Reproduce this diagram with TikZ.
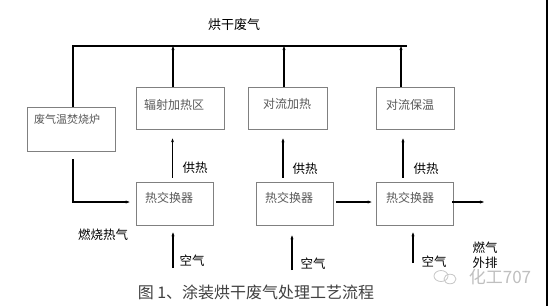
\documentclass[tikz,border=0pt]{standalone}
\usepackage{fontspec}
\newfontfamily\cjk{Noto Sans CJK SC}
\usetikzlibrary{arrows.meta}
\begin{document}
\begin{tikzpicture}[x=1pt,y=-1pt,
  box/.style={draw=black!50, line width=0.7pt, inner sep=0pt, minimum height=43pt},
  flow/.style={line width=1.3pt, black},
  arr/.style={flow, -{Stealth[length=4pt,width=3pt]}},
  boxtxt/.style={font=\cjk\fontsize{12}{12}\selectfont, text=black!65, inner sep=0pt},
  lbl/.style={font=\cjk\fontsize{12.5}{14}\selectfont, text=black, inner sep=0pt, align=center},
  captxt/.style={font=\cjk\fontsize{16}{16}\selectfont, text=black!75, inner sep=0pt},
  wmark/.style={font=\fontsize{17}{17}\selectfont\cjk, text=black!25, inner sep=0pt}
]
\useasboundingbox (0,0) rectangle (548,306);
\fill[white] (0,0) rectangle (548,306);
\fill[black] (545.5,0) rectangle (548,306);

% boxes
\node[box, minimum width=88pt, minimum height=44pt] (furnace) at (71,129) {};
\node[box, minimum width=88pt, minimum height=42pt] (rad) at (180,108) {};
\node[box, minimum width=79pt, minimum height=42pt] (conv) at (287.5,108) {};
\node[box, minimum width=78pt, minimum height=42pt] (ins) at (415,108) {};
\node[box, minimum width=77pt] (hx1) at (174.5,203.5) {};
\node[box, minimum width=77pt] (hx2) at (294.5,203.5) {};
\node[box, minimum width=77pt] (hx3) at (414.5,203.5) {};

% box texts
\node[boxtxt, font=\cjk\fontsize{11}{11}\selectfont] (tf) at (67,119) {废气温焚烧炉};
\node[boxtxt] (tr) at (174,105) {辐射加热区};
\node[boxtxt] (tc) at (287,104) {对流加热};
\node[boxtxt] (ti) at (410,105) {对流保温};
\node[boxtxt] (th1) at (169,198) {热交换器};
\node[boxtxt] (th2) at (289,198) {热交换器};
\node[boxtxt] (th3) at (410,198) {热交换器};

% top collector
\coordinate (tl) at (73,46);
\coordinate (tre) at (407,46);
\draw[flow] ([shift={(2,0)}]furnace.north) -- (tl) -- (tre);
\node[lbl, font=\cjk\fontsize{13}{13}\selectfont] (title) at (234,25) {烘干废气};

\draw[arr] ([shift={(-7,0)}]rad.north) -- ([shift={(-7,0)}]rad.north |- tl);
\draw[arr] ([shift={(-3.5,0)}]conv.north) -- ([shift={(-3.5,0)}]conv.north |- tl);
\draw[arr] ([shift={(-14,0)}]ins.north) -- ([shift={(-14,0)}]ins.north |- tl);

% heat supply
\draw[arr] ([shift={(-2,-4)}]hx1.north) -- ([shift={(-7.5,9)}]rad.south);
\draw[arr] ([shift={(-11.5,-4)}]hx2.north) -- ([shift={(-4.5,9)}]conv.south);
\draw[arr] ([shift={(-11.5,-4)}]hx3.north) -- ([shift={(-12,9)}]ins.south);
\node[lbl] (g1) at (195,168) {供热};
\node[lbl] (g2) at (305,169) {供热};
\node[lbl] (g3) at (426,169) {供热};

% furnace hot gas
\draw[arr] ([shift={(2,8)}]furnace.south) |- ([shift={(-6,-1.5)}]hx1.west);
\node[lbl] (burn) at (103,235) {燃烧热气};

% chain
\draw[arr] ([shift={(3,-1.5)}]hx2.east) -- ([shift={(-4,-1.5)}]hx3.west);
\coordinate (out) at (484,202);
\draw[arr] ([shift={(-1,-1.5)}]hx3.east) -- (out);
\node[lbl, font=\cjk\fontsize{12.5}{15.5}\selectfont] (exh) at (485,255) {燃气\\外排};

% air inlets
\coordinate (air1) at (173,268);
\coordinate (air2) at (292,270);
\coordinate (air3) at (413,263);
\draw[arr] (air1) -- ([shift={(-1.5,7)}]hx1.south);
\draw[arr] (air2) -- ([shift={(-2.5,10)}]hx2.south);
\draw[arr] (air3) -- ([shift={(-1.5,7)}]hx3.south);
\node[lbl] (a1) at (192,261) {空气};
\node[lbl] (a2) at (313,264) {空气};
\node[lbl] (a3) at (434,262) {空气};

% caption
\node[captxt] (caption) at (256,292) {图 1、涂装烘干废气处理工艺流程};

% watermark
\draw[black!22, line width=0.8pt] (441,276) ellipse (7pt and 5.5pt);
\draw[black!22, line width=0.8pt] (450,279) ellipse (6pt and 4.8pt);
\node[wmark] (wm) at (500,277) {化工707};
\end{tikzpicture}
\end{document}
